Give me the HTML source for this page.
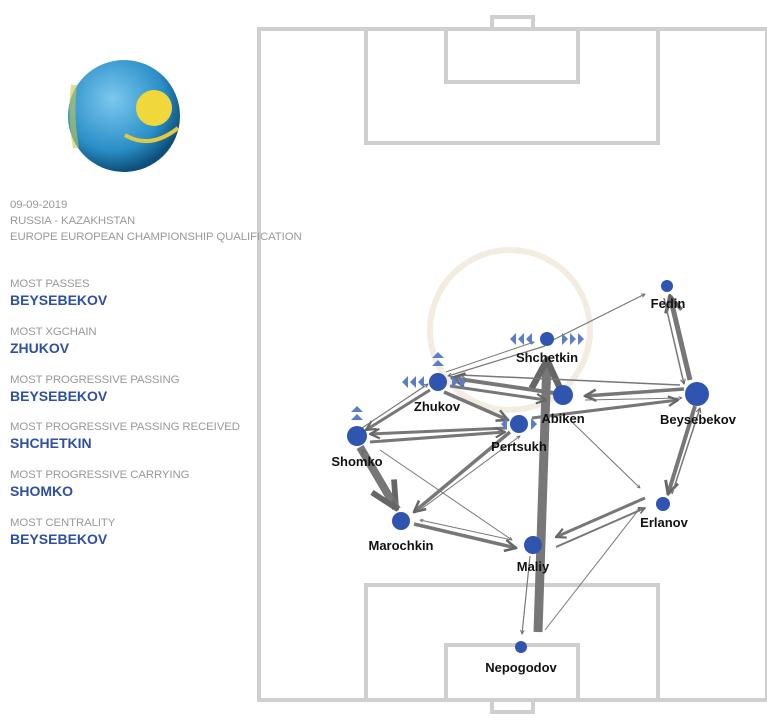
<!DOCTYPE html>
<html><head><style>
body{margin:0;width:767px;height:720px;background:#fff;overflow:hidden;font-family:"Liberation Sans",Arial,sans-serif;position:relative}
.l{position:absolute;left:10px;font-size:11.4px;color:#999;letter-spacing:-0.1px}
.v{position:absolute;left:10px;font-size:14px;font-weight:bold;color:#2f4fa0}
</style></head><body>
<svg width="767" height="720" style="position:absolute;left:0;top:0">
<defs>
<radialGradient id="g" cx="40%" cy="35%" r="65%"><stop offset="0" stop-color="#7cc8ee"/><stop offset="0.7" stop-color="#2a8fc8"/><stop offset="1" stop-color="#0d4f7a"/></radialGradient>
<marker id="a" viewBox="0 0 10 10" refX="9" refY="5" markerWidth="4" markerHeight="4" orient="auto"><path d="M1,1 L9,5 L1,9" fill="none" stroke="#666" stroke-width="1.8"/></marker>
</defs>
<circle cx="124" cy="116" r="56" fill="url(#g)"/>
<circle cx="154" cy="108" r="18" fill="#f0d83a"/>
<path d="M125,135 Q150,150 178,128" stroke="#e0c840" stroke-width="4" fill="none"/>
<path d="M74,85 Q70,116 76,148" stroke="#c8c850" stroke-width="6" fill="none" opacity="0.6"/>
<g fill="none" stroke="#cfcfcf" stroke-width="4">
<rect x="259" y="29" width="508" height="671"/>
<rect x="366" y="29" width="292" height="114"/>
<rect x="446" y="29" width="132" height="53"/>
<rect x="492" y="17" width="41" height="12"/>
<rect x="366" y="585" width="292" height="115"/>
<rect x="446" y="645" width="132" height="55"/>
<rect x="492" y="700" width="41" height="12"/>
</g>
<circle cx="510" cy="330" r="80" fill="none" stroke="#f3ece0" stroke-width="6"/>
<g stroke="#777" fill="none" marker-end="url(#a)">
<line x1="538" y1="632" x2="547" y2="360" stroke-width="9"/>
<line x1="553" y1="340" x2="645" y2="294" stroke-width="1.2"/>
<line x1="690" y1="380" x2="670" y2="296" stroke-width="5"/>
<line x1="664" y1="298" x2="684" y2="384" stroke-width="1.5"/>
<line x1="695" y1="406" x2="668" y2="494" stroke-width="4"/>
<line x1="672" y1="494" x2="700" y2="408" stroke-width="1.5"/>
<line x1="684" y1="389" x2="585" y2="396" stroke-width="3.5"/>
<line x1="585" y1="400" x2="682" y2="398" stroke-width="1"/>
<line x1="680" y1="385" x2="460" y2="375" stroke-width="1.5"/>
<line x1="532" y1="418" x2="678" y2="400" stroke-width="3"/>
<line x1="554" y1="393" x2="452" y2="378" stroke-width="4"/>
<line x1="450" y1="386" x2="546" y2="400" stroke-width="3"/>
<line x1="545" y1="346" x2="448" y2="376" stroke-width="1.2"/>
<line x1="446" y1="372" x2="534" y2="342" stroke-width="1"/>
<line x1="430" y1="390" x2="366" y2="430" stroke-width="3"/>
<line x1="362" y1="428" x2="428" y2="384" stroke-width="1.2"/>
<line x1="444" y1="392" x2="508" y2="420" stroke-width="3.5"/>
<line x1="507" y1="428" x2="370" y2="434" stroke-width="3"/>
<line x1="370" y1="442" x2="505" y2="432" stroke-width="3"/>
<line x1="510" y1="432" x2="414" y2="512" stroke-width="3.5"/>
<line x1="360" y1="447" x2="396" y2="508" stroke-width="8"/>
<line x1="400" y1="508" x2="362" y2="450" stroke-width="1.5"/>
<line x1="414" y1="524" x2="516" y2="548" stroke-width="3.5"/>
<line x1="512" y1="540" x2="420" y2="520" stroke-width="1"/>
<line x1="380" y1="450" x2="512" y2="540" stroke-width="1"/>
<line x1="572" y1="422" x2="640" y2="488" stroke-width="1"/>
<line x1="645" y1="498" x2="556" y2="537" stroke-width="3"/>
<line x1="556" y1="547" x2="645" y2="508" stroke-width="2"/>
<line x1="530" y1="556" x2="522" y2="634" stroke-width="1.2"/>
<line x1="545" y1="630" x2="640" y2="508" stroke-width="1"/>
<line x1="420" y1="510" x2="520" y2="436" stroke-width="1"/>
</g>
<g fill="#2f55b0">
<circle cx="667" cy="286" r="6"/><circle cx="547" cy="339" r="7"/><circle cx="438" cy="382" r="9"/>
<circle cx="563" cy="395" r="10"/><circle cx="697" cy="394" r="12"/><circle cx="519" cy="424" r="9"/>
<circle cx="357" cy="436" r="10"/><circle cx="663" cy="504" r="7"/><circle cx="401" cy="521" r="9"/>
<circle cx="533" cy="545" r="9"/><circle cx="521" cy="647" r="6"/>
</g>
<g fill="#5a7fc8">
<path d="M532,333 l-6,6 6,6z M524,333 l-6,6 6,6z M516,333 l-6,6 6,6z M562,333 l6,6 -6,6z M570,333 l6,6 -6,6z M578,333 l6,6 -6,6z"/>
<path d="M424,376 l-6,6 6,6z M416,376 l-6,6 6,6z M408,376 l-6,6 6,6z M452,376 l6,6 -6,6z M460,376 l6,6 -6,6z M438,360 l-6,6 12,0z M438,352 l-6,6 12,0z"/>
<path d="M357,414 l-6,6 12,0z M357,406 l-6,6 12,0z M507,418 l-6,6 6,6z M531,418 l6,6 -6,6z"/>
</g>
<g font-family="Liberation Sans,Arial,sans-serif" font-weight="bold" font-size="13" fill="#111" text-anchor="middle">
<text x="668" y="308">Fedin</text><text x="547" y="362">Shchetkin</text><text x="437" y="411">Zhukov</text>
<text x="563" y="423">Abiken</text><text x="698" y="424">Beysebekov</text><text x="519" y="451">Pertsukh</text>
<text x="357" y="466">Shomko</text><text x="664" y="527">Erlanov</text><text x="401" y="550">Marochkin</text>
<text x="533" y="571">Maliy</text><text x="521" y="672">Nepogodov</text>
</g>
</svg>
<div class="l" style="top:199px">09-09-2019</div>
<div class="l" style="top:215px">RUSSIA - KAZAKHSTAN</div>
<div class="l" style="top:231px">EUROPE EUROPEAN CHAMPIONSHIP QUALIFICATION</div>
<div class="l" style="top:278px">MOST PASSES</div><div class="v" style="top:292px">BEYSEBEKOV</div>
<div class="l" style="top:326px">MOST XGCHAIN</div><div class="v" style="top:340px">ZHUKOV</div>
<div class="l" style="top:374px">MOST PROGRESSIVE PASSING</div><div class="v" style="top:388px">BEYSEBEKOV</div>
<div class="l" style="top:421px">MOST PROGRESSIVE PASSING RECEIVED</div><div class="v" style="top:435px">SHCHETKIN</div>
<div class="l" style="top:469px">MOST PROGRESSIVE CARRYING</div><div class="v" style="top:483px">SHOMKO</div>
<div class="l" style="top:517px">MOST CENTRALITY</div><div class="v" style="top:531px">BEYSEBEKOV</div>
</body></html>
